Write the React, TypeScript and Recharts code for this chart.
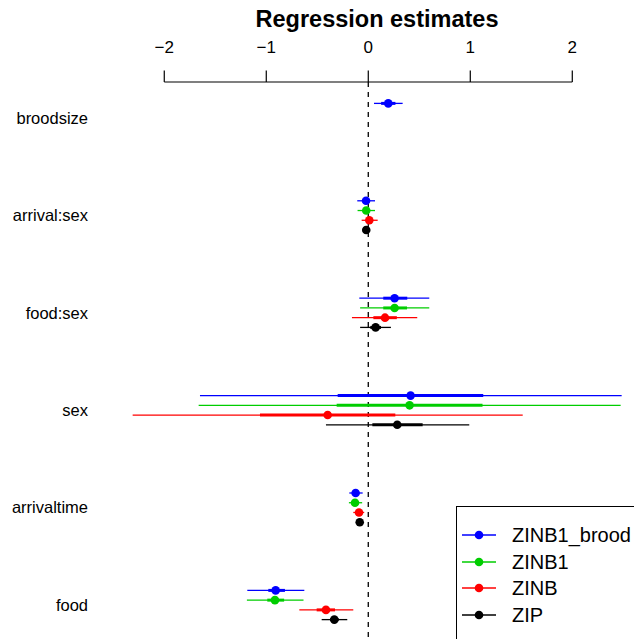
import React from 'react';
import { ScatterChart, Scatter, XAxis, YAxis, ErrorBar, ReferenceLine } from 'recharts';

const terms = ['broodsize', 'arrival:sex', 'food:sex', 'sex', 'arrivaltime', 'food'];
const xTicks = [-2, -1, 0, 1, 2];

// point estimates per term (null = term not in that model)
const zinb1BroodEst = [0.196, -0.022, 0.258, 0.415, -0.124, -0.908];
const zinb1Est = [null, -0.02, 0.258, 0.405, -0.13, -0.915];
const zinbEst = [null, 0.01, 0.164, -0.398, -0.091, -0.415];
const zipEst = [null, -0.02, 0.072, 0.284, -0.084, -0.333];

// outer (thin) intervals
const zinb1BroodOuter = [[0.056, 0.337], [-0.108, 0.066], [-0.088, 0.598], [-1.65, 2.484], [-0.186, -0.055], [-1.186, -0.627]];
const zinb1Outer = [null, [-0.105, 0.066], [-0.08, 0.598], [-1.663, 2.474], [-0.19, -0.06], [-1.19, -0.635]];
const zinbOuter = [null, [-0.065, 0.092], [-0.16, 0.48], [-2.31, 1.514], [-0.147, -0.04], [-0.676, -0.147]];
const zipOuter = [null, [-0.03, -0.01], [-0.08, 0.222], [-0.415, 0.99], [-0.1, -0.07], [-0.457, -0.206]];

// inner (thick) intervals
const zinb1BroodInner = [[0.126, 0.266], [-0.05, 0.01], [0.147, 0.382], [-0.3, 1.127], [-0.15, -0.1], [-0.98, -0.817]];
const zinb1Inner = [null, [-0.05, 0.01], [0.147, 0.38], [-0.31, 1.12], [-0.16, -0.1], [-0.99, -0.825]];
const zinbInner = [null, [-0.02, 0.04], [0.05, 0.28], [-1.062, 0.265], [-0.11, -0.07], [-0.506, -0.326]];
const zipInner = [null, [-0.025, -0.015], [0.02, 0.125], [0.04, 0.533], [-0.09, -0.078], [-0.375, -0.29]];

const FONT = '"Liberation Sans", Arial, Helvetica, sans-serif';

// vertical offset of each model within a term row
const slotOffset = [-0.15, -0.05, 0.05, 0.15];

const build = (est: any[], outer: any[], inner: any[], slot: number) =>
  est
    .map((v, i) =>
      v === null
        ? null
        : {
            x: v,
            y: i + slotOffset[slot],
            outer: [v - outer[i][0], outer[i][1] - v],
            inner: [v - inner[i][0], inner[i][1] - v],
          }
    )
    .filter(Boolean);

const series = [
  { name: 'ZINB1_brood', color: '#0000FF', data: build(zinb1BroodEst, zinb1BroodOuter, zinb1BroodInner, 0) },
  { name: 'ZINB1', color: '#00CD00', data: build(zinb1Est, zinb1Outer, zinb1Inner, 1) },
  { name: 'ZINB', color: '#FF0000', data: build(zinbEst, zinbOuter, zinbInner, 2) },
  { name: 'ZIP', color: '#000000', data: build(zipEst, zipOuter, zipInner, 3) },
];

const Y_TOP = -0.3696;
const Y_BOTTOM = 5.349;

const fmt = (v: number) => (v < 0 ? '\u2212' + Math.abs(v) : String(v));

const App = () => {
  return (
    <div style={{ position: 'relative', width: 634, height: 639, overflow: 'hidden', background: '#fff', fontFamily: FONT }}>
      <style>{`body{margin:0}`}</style>
      <div
        style={{
          position: 'absolute',
          left: 177,
          top: 8,
          width: 400,
          textAlign: 'center',
          fontSize: 23.5,
          lineHeight: '23.5px',
          fontWeight: 'bold',
          color: '#000',
        }}
      >
        Regression estimates
      </div>
      <ScatterChart width={634} height={639} margin={{ top: 0, right: 0, bottom: 0, left: 0 }}>
        <XAxis
          type="number"
          dataKey="x"
          orientation="top"
          height={82}
          domain={[-2.434, 2.605]}
          allowDataOverflow
          ticks={xTicks}
          tickFormatter={fmt}
          axisLine={false}
          tickLine={{ stroke: '#000', strokeWidth: 1.2 }}
          tickSize={11.5}
          tickMargin={18}
          tick={{ fill: '#000', fontSize: 17, fontFamily: FONT }}
        />
        <YAxis
          type="number"
          dataKey="y"
          reversed
          width={120}
          domain={[Y_TOP, Y_BOTTOM]}
          allowDataOverflow
          ticks={[0, 1, 2, 3, 4, 5]}
          tickFormatter={(v: number) => terms[v]}
          axisLine={false}
          tickLine={false}
          tickSize={0}
          tickMargin={32}
          tick={{ fill: '#000', fontSize: 16.5, fontFamily: FONT }}
        />
        <ReferenceLine
          segment={[{ x: -2, y: Y_TOP }, { x: 2, y: Y_TOP }]}
          stroke="#000"
          strokeWidth={1.2}
          ifOverflow="visible"
        />
        <ReferenceLine x={0} stroke="#000" strokeWidth={1.3} strokeDasharray="5 5" />
        {series.map((s) => (
          <Scatter
            key={s.name}
            name={s.name}
            data={s.data}
            isAnimationActive={false}
            shape={(p: any) => <circle cx={p.cx} cy={p.cy} r={4.3} fill={s.color} />}
          >
            <ErrorBar dataKey="outer" direction="x" width={0} stroke={s.color} strokeWidth={1.3} isAnimationActive={false} />
            <ErrorBar dataKey="inner" direction="x" width={0} stroke={s.color} strokeWidth={3} isAnimationActive={false} />
          </Scatter>
        ))}
      </ScatterChart>
      <div
        style={{
          position: 'absolute',
          left: 456,
          top: 506,
          width: 200,
          height: 160,
          border: '1px solid #000',
          background: '#fff',
        }}
      >
        {series.map((s, i) => (
          <div key={s.name} style={{ position: 'absolute', left: 0, top: 28 + i * 26.6 - 11, height: 22, width: 200 }}>
            <svg width={45} height={22} style={{ position: 'absolute', left: 4, top: 0 }}>
              <line x1={1} y1={11} x2={35} y2={11} stroke={s.color} strokeWidth={1.3} />
              <circle cx={18} cy={11} r={4.3} fill={s.color} />
            </svg>
            <div
              style={{
                position: 'absolute',
                left: 55,
                top: 0,
                fontSize: 20,
                lineHeight: '22px',
                color: '#000',
                whiteSpace: 'nowrap',
              }}
            >
              {s.name}
            </div>
          </div>
        ))}
      </div>
    </div>
  );
};

export default App;
